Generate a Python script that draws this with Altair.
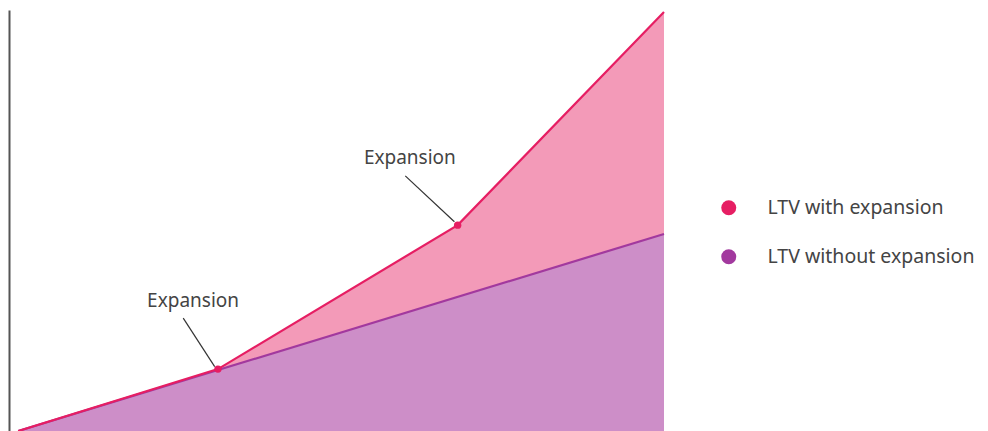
import altair as alt
import pandas as pd

# Series values (arbitrary units)
x_with = [1.4, 31.9, 68.5, 100]
y_with = [0.0, 14.7, 48.9, 99.5]
x_without = [1.4, 100]
y_without = [0.0, 46.8]

series_names = ["LTV with expansion", "LTV without expansion"]
line_colors = ["#E61E63", "#A2399E"]
area_colors = ["#F39AB8", "#CD8EC8"]

# Annotation anchors (expansion points) and label positions
ann_text = ["Expansion", "Expansion"]
ann_x = [28.1, 61.2]
ann_y = [30.9, 64.8]
lead_x1 = [26.6, 60.5]
lead_y1 = [26.8, 60.6]
lead_x2 = [31.4, 68.0]
lead_y2 = [15.3, 49.7]

df_with = pd.DataFrame({"x": x_with, "y": y_with})
df_without = pd.DataFrame({"x": x_without, "y": y_without})
df_points = df_with.iloc[1:3]
df_legend = pd.DataFrame({
    "x": x_with + x_without,
    "y": y_with + y_without,
    "series": [series_names[0]] * len(x_with) + [series_names[1]] * len(x_without),
})
df_ann = pd.DataFrame({"text": ann_text, "x": ann_x, "y": ann_y,
                       "x1": lead_x1, "y1": lead_y1, "x2": lead_x2, "y2": lead_y2})

xs = alt.Scale(domain=[0, 100], nice=False, zero=False)
ys = alt.Scale(domain=[0, 100], nice=False)
yaxis = alt.Axis(domain=True, domainColor="#555555", domainWidth=2,
                 ticks=False, labels=False, grid=False, title=None)
X = alt.X("x:Q", scale=xs, axis=None)
Y = alt.Y("y:Q", scale=ys, axis=yaxis)

area_with = alt.Chart(df_with).mark_area(color=area_colors[0], opacity=1).encode(x=X, y=Y)
area_without = alt.Chart(df_without).mark_area(color=area_colors[1], opacity=1).encode(x=X, y=Y)
line_without = alt.Chart(df_without).mark_line(color=line_colors[1], strokeWidth=2.2).encode(x=X, y=Y)
line_with = alt.Chart(df_with).mark_line(color=line_colors[0], strokeWidth=2.2).encode(x=X, y=Y)
leaders = alt.Chart(df_ann).mark_rule(color="#333333", strokeWidth=1.2).encode(
    x=alt.X("x1:Q", scale=xs, axis=None), y=alt.Y("y1:Q", scale=ys, axis=yaxis),
    x2="x2:Q", y2="y2:Q")
points = alt.Chart(df_points).mark_circle(color=line_colors[0], size=55, opacity=1).encode(x=X, y=Y)
labels = alt.Chart(df_ann).mark_text(font="Noto Sans", fontSize=19, color="#444444",
                                     align="center", baseline="middle").encode(
    x=X, y=Y, text="text:N")
legend_layer = alt.Chart(df_legend).mark_circle(size=10).encode(
    x=X, y=Y,
    color=alt.Color("series:N", scale=alt.Scale(domain=series_names, range=line_colors),
                    legend=alt.Legend(title=None, orient="none", legendX=710, legendY=188,
                                      symbolType="circle", symbolSize=225, symbolOpacity=1,
                                      labelFont="Noto Sans", labelFontSize=19.5, labelColor="#444444",
                                      labelLimit=300, labelOffset=29, rowPadding=28)),
    opacity=alt.value(0))

chart = alt.layer(area_with, area_without, line_without, line_with, leaders, points, labels,
                  legend_layer).properties(
    width=655, height=421,
    padding={"left": 9, "top": 10, "right": 324, "bottom": 0},
    autosize=alt.AutoSizeParams(type="none"),
    background="white",
).configure_view(stroke=None)

chart.save("out.html", embed_options={"renderer": "svg", "actions": False})
